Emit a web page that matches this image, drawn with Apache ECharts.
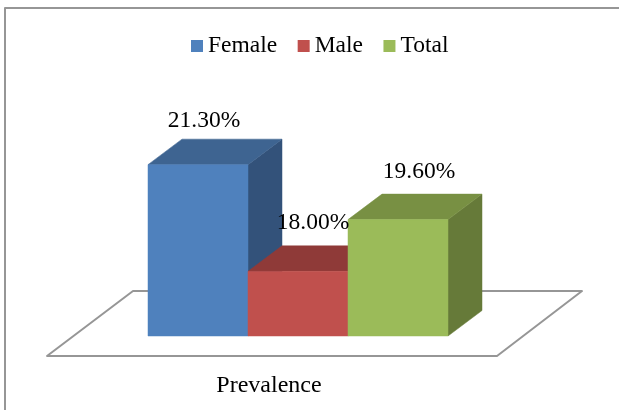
<!DOCTYPE html>
<html><head><meta charset="utf-8">
<style>html,body{margin:0;padding:0;background:#fff}#c{width:619px;height:410px}</style>
<script src="https://cdn.jsdelivr.net/npm/echarts@6/dist/echarts.min.js"></script>
</head><body><div id="c"></div>
<script>
const categories = ['Prevalence'];
const seriesNames = ['Female', 'Male', 'Total'];
const seriesValues = [21.3, 18.0, 19.6];
const frontColors = ['#4F81BD', '#C0504D', '#9BBB59'];
const topColors = ['#3E6491', '#8F3A38', '#789043'];
const sideColors = ['#33527A', '#7A3230', '#667A39'];
const labelShift = [[6, -18], [15, -23], [21, -22]];
const depthX = 34, depthY = -25.5;
const FONT = '"Liberation Serif","Times New Roman",serif';
const chart = echarts.init(document.getElementById('c'), null, {renderer: 'canvas'});

function renderBar(i) {
  return function (params, api) {
    const band = api.size([1, 0])[0] / seriesValues.length;
    const c = api.coord([api.value(0), api.value(1)]);
    const base = api.coord([api.value(0), 16]);
    const x0 = c[0] + (i - seriesValues.length / 2) * band;
    const x1 = x0 + band, yT = c[1], yB = base[1];
    const poly = (pts, fill) => ({type: 'polygon', shape: {points: pts}, style: {fill: fill, stroke: fill, lineWidth: 0.5}});
    return {type: 'group', children: [
      poly([[x1, yT], [x1 + depthX, yT + depthY], [x1 + depthX, yB + depthY], [x1, yB]], sideColors[i]),
      poly([[x0, yT], [x0 + depthX, yT + depthY], [x1 + depthX, yT + depthY], [x1, yT]], topColors[i]),
      poly([[x0, yT], [x1, yT], [x1, yB], [x0, yB]], frontColors[i]),
      {type: 'text', z2: 100, silent: true, style: {
        text: api.value(1).toFixed(2) + '%',
        x: (x0 + x1) / 2 + labelShift[i][0],
        y: yT + depthY + labelShift[i][1],
        textAlign: 'center', textVerticalAlign: 'middle',
        fill: '#000', font: '23.5px ' + FONT
      }}
    ]};
  };
}

const line = {stroke: '#969696', lineWidth: 2, fill: 'none', lineJoin: 'round'};
chart.setOption({
  animation: false,
  backgroundColor: '#fff',
  color: frontColors,
  legend: {
    data: seriesNames, left: 191, top: 34, icon: 'rect',
    itemWidth: 12, itemHeight: 12, itemGap: 20.5, padding: 0,
    textStyle: {fontFamily: FONT, fontSize: 23.5, color: '#000'}
  },
  grid: {left: 148, width: 300, top: 142, bottom: 74},
  xAxis: {
    type: 'category', data: categories,
    axisLine: {show: false}, axisTick: {show: false},
    axisLabel: {fontFamily: FONT, fontSize: 24, color: '#000', margin: 38, padding: [0, 58, 0, 0]}
  },
  yAxis: {type: 'value', min: 16, max: 22, show: false},
  graphic: [
    {type: 'polyline', silent: true, shape: {points: [[5, 410], [5, 8], [619, 8]]}, style: line},
    {type: 'polygon', silent: true, shape: {points: [[47, 356], [497, 356], [582, 291], [133, 291]]}, style: line}
  ],
  series: seriesNames.map((name, i) => ({
    type: 'custom', name: name, coordinateSystem: 'cartesian2d',
    encode: {x: 0, y: 1}, clip: false, silent: true,
    itemStyle: {color: frontColors[i]},
    renderItem: renderBar(i),
    data: [[categories[0], seriesValues[i]]]
  }))
});
</script></body></html>
